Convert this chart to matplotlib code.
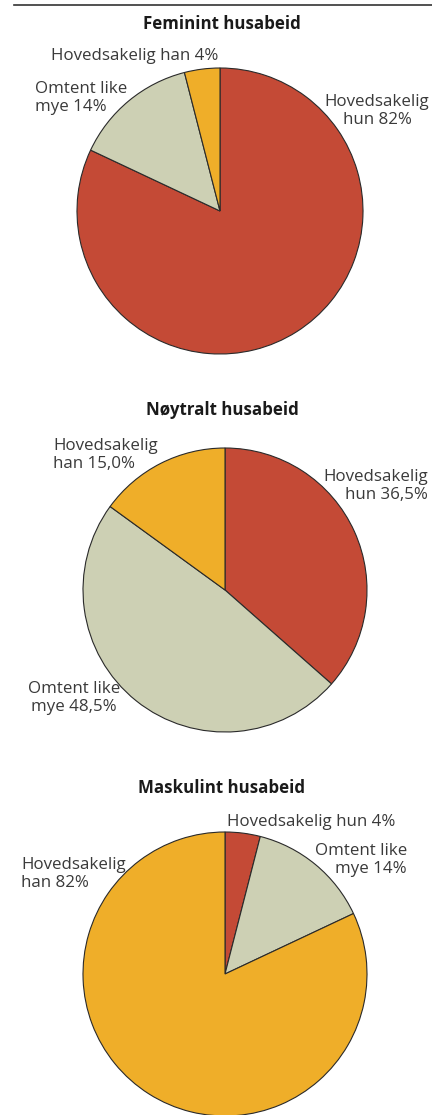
import matplotlib
matplotlib.use("Agg")
import matplotlib.pyplot as plt
from matplotlib.lines import Line2D

plt.rcParams['font.family'] = ['Open Sans', 'DejaVu Sans']

# Data
titles = ["Feminint husabeid", "Nøytralt husabeid", "Maskulint husabeid"]
categories = ["Hovedsakelig hun", "Omtent like mye", "Hovedsakelig han"]
feminint = [82, 14, 4]
noytralt = [36.5, 48.5, 15.0]
maskulint = [4, 14, 82]
values = [feminint, noytralt, maskulint]
labels = [
    ["Hovedsakelig\nhun 82%", "Omtent like\nmye 14%", "Hovedsakelig han 4%"],
    ["Hovedsakelig\nhun 36,5%", "Omtent like\nmye 48,5%", "Hovedsakelig\nhan 15,0%"],
    ["Hovedsakelig hun 4%", "Omtent like\nmye 14%", "Hovedsakelig\nhan 82%"],
]
colors = ["#C44A36", "#CDD0B4", "#EFAE29"]

W, H = 432, 1115
fig = plt.figure(figsize=(W / 100, H / 100), dpi=100)
ax = fig.add_axes([0, 0, 1, 1])

# layout (pixel coords, y from top)
centers = [(220, 211), (225, 590), (225, 974)]
radii = [143, 142, 142]
title_pos = [(222, 24), (222, 410), (222, 788)]
label_pos = [
    [(377, 111, 'center', 'center'), (35, 98, 'left', 'left'), (135, 56, 'center', 'center')],
    [(428, 486, 'right', 'right'), (74, 698, 'center', 'center'), (53, 455, 'left', 'left')],
    [(311, 822, 'center', 'center'), (407, 860, 'right', 'right'), (21, 874, 'left', 'left')],
]

for i in range(3):
    cx, cy = centers[i]
    ax.pie(values[i], colors=colors, startangle=90, counterclock=False,
           center=(cx, H - cy), radius=radii[i],
           wedgeprops=dict(edgecolor="#2a2a2a", linewidth=0.8))
    tx, ty = title_pos[i]
    ax.text(tx, H - ty, titles[i], ha='center', va='center', fontsize=12.2,
            fontweight='bold', color='#1a1a1a')
    for lab, (lx, ly, ha, ma) in zip(labels[i], label_pos[i]):
        ax.text(lx, H - ly, lab, ha=ha, va='center', multialignment=ma,
                fontsize=12.2, color='#3a3a3a', linespacing=1.18)

ax.add_line(Line2D([14, W], [H - 5, H - 5], color='#333333', linewidth=1.2))
ax.set_xlim(0, W)
ax.set_ylim(0, H)
ax.set_aspect('auto')
ax.axis('off')

fig.savefig("out.png", dpi=100)
